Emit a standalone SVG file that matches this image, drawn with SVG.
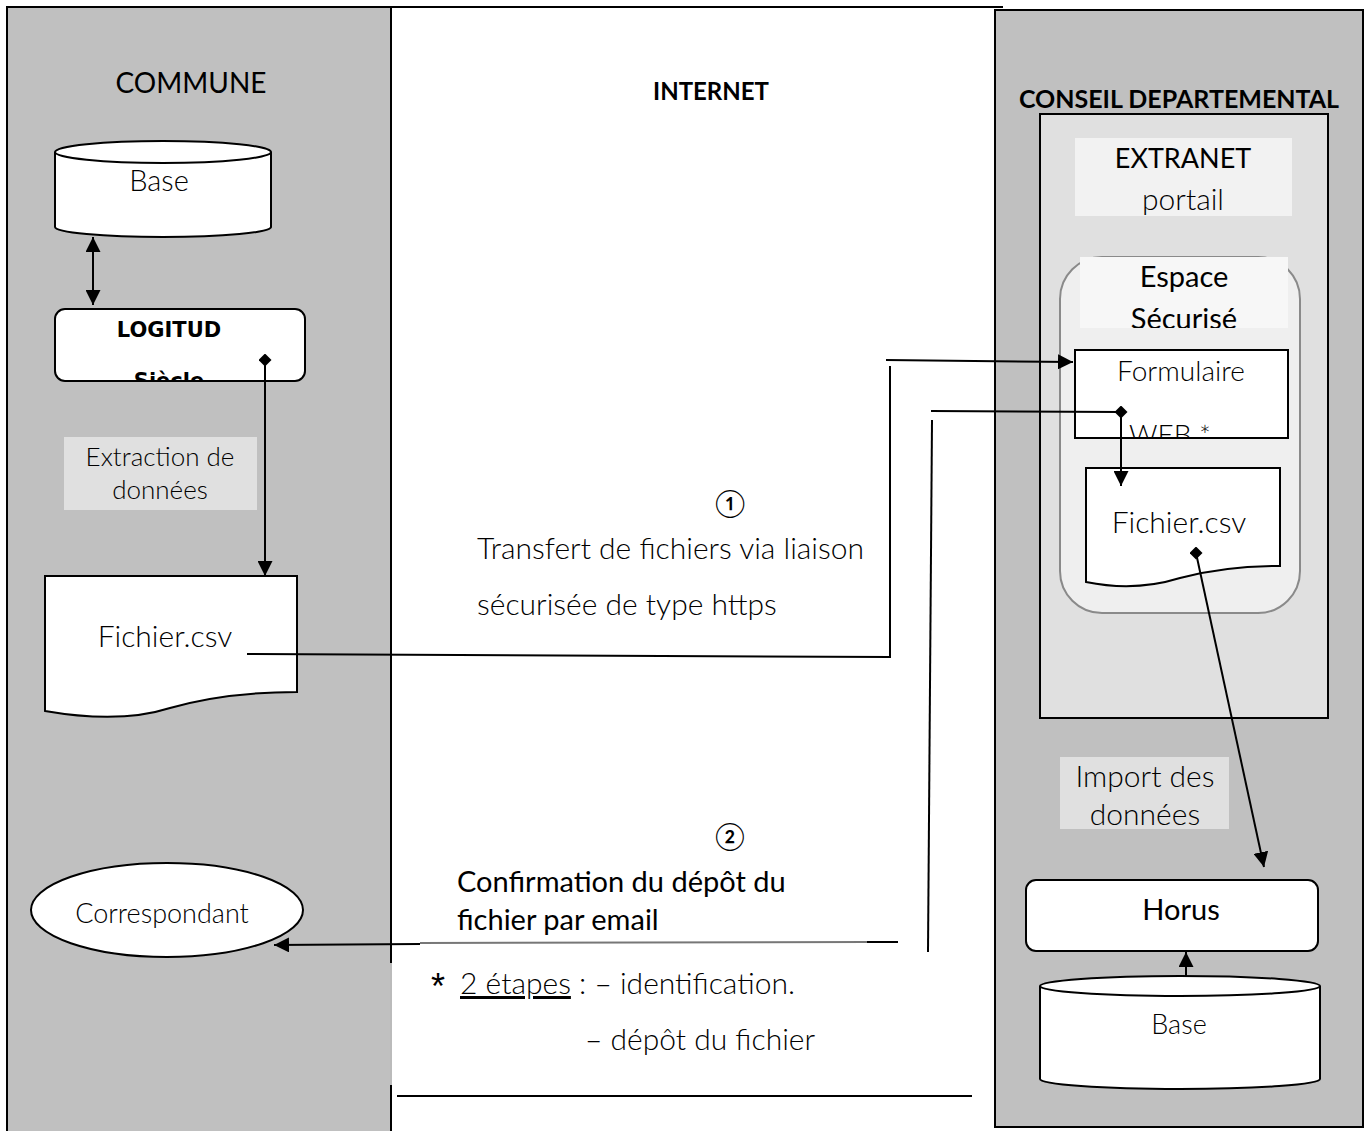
<svg xmlns="http://www.w3.org/2000/svg" width="1370" height="1131" viewBox="0 0 1370 1131">
<style>
.t{font-family:Lato,"Open Sans","Liberation Sans",sans-serif;fill:#000}
.l{font-weight:300}
.b{font-weight:700}
.v{font-family:"DejaVu Sans",Verdana,sans-serif;font-weight:700}
.ln{stroke:#000;stroke-width:2;fill:none}
.box{fill:#fff;stroke:#000;stroke-width:2}
</style>
<defs>
<marker id="arr" markerUnits="userSpaceOnUse" markerWidth="15" markerHeight="15" refX="15" refY="7.5" orient="auto-start-reverse" viewBox="0 0 15 15"><path d="M0,0 L15,7.5 L0,15 z" fill="#000"/></marker>
<marker id="dia" markerUnits="userSpaceOnUse" markerWidth="13" markerHeight="13" refX="6.5" refY="6.5" orient="0" viewBox="0 0 13 13"><path d="M0,6.5 L6.5,0 L13,6.5 L6.5,13 z" fill="#000"/></marker>
<clipPath id="cLog"><rect x="55" y="309" width="250" height="72" rx="10"/></clipPath>
<clipPath id="cForm"><rect x="1075" y="350" width="213" height="88"/></clipPath>
<clipPath id="cEsp"><rect x="1080" y="257" width="208" height="71"/></clipPath>
</defs>

<g id="bg">
<rect x="391" y="7" width="612" height="1130" fill="#fff"/>
<line x1="7" y1="7" x2="1003" y2="7" stroke="#000" stroke-width="2"/>
</g>

<g id="lane-commune">
<rect x="7" y="7" width="384" height="1130" fill="#c0c0c0" stroke="#000" stroke-width="2"/>
<line x1="391" y1="963" x2="391" y2="1085" stroke="#bbb" stroke-width="2"/>
<text class="t" x="191" y="93" font-size="28" text-anchor="middle">COMMUNE</text>
</g>

<g id="lane-internet">
<text class="t b" x="711" y="100" font-size="24" text-anchor="middle">INTERNET</text>
</g>

<g id="lane-conseil">
<rect x="995" y="10" width="368" height="1117" fill="#c0c0c0" stroke="#000" stroke-width="2"/>
<text class="t b" x="1179" y="108" font-size="25" text-anchor="middle">CONSEIL DEPARTEMENTAL</text>
</g>

<g id="extranet">
<rect x="1040" y="114" width="288" height="604" fill="#e0e0e0" stroke="#000" stroke-width="2"/>
<rect x="1075" y="138" width="217" height="78" fill="#f2f2f2"/>
<text class="t" x="1183" y="168" font-size="27" text-anchor="middle">EXTRANET</text>
<text class="t l" x="1183" y="210" font-size="30" text-anchor="middle">portail</text>
</g>

<g id="espace">
<rect x="1060" y="257" width="240" height="356" rx="42" fill="#efefef" stroke="#8a8a8a" stroke-width="2"/>
<rect x="1080" y="257" width="208" height="71" fill="#f7f7f7"/>
<g clip-path="url(#cEsp)">
<text class="t" x="1184" y="287" font-size="29" text-anchor="middle">Espace</text>
<text class="t" x="1184" y="329" font-size="29" text-anchor="middle">Sécurisé</text>
</g>
</g>

<g id="formulaire">
<rect class="box" x="1075" y="350" width="213" height="88"/>
<text class="t l" x="1181" y="381" font-size="28" text-anchor="middle">Formulaire</text>
<g clip-path="url(#cForm)"><text class="t l" x="1170" y="445" font-size="28" text-anchor="middle">WEB *</text></g>
</g>

<g id="fichier-right">
<path class="box" d="M1086,468 H1280 V566 Q1225,566 1180,578 Q1135,592 1086,582 Z"/>
<text class="t l" x="1179" y="533" font-size="30" text-anchor="middle">Fichier.csv</text>
</g>

<g id="import-label">
<rect x="1060" y="757" width="169" height="72" fill="#e0e0e0"/>
<text class="t l" x="1145" y="787" font-size="30" text-anchor="middle">Import des</text>
<text class="t l" x="1145" y="825" font-size="30" text-anchor="middle">données</text>
</g>

<g id="horus">
<rect class="box" x="1026" y="880" width="292" height="71" rx="10"/>
<text class="t" x="1181" y="920" font-size="29" text-anchor="middle">Horus</text>
</g>

<g id="base-right">
<path class="box" d="M1040,986 V1079 A140,10 0 0 0 1320,1079 V986"/>
<ellipse class="box" cx="1180" cy="986" rx="140" ry="10"/>
<text class="t l" x="1179" y="1034" font-size="27" text-anchor="middle">Base</text>
</g>

<g id="base-left">
<path class="box" d="M55,152 V227 A108,10 0 0 0 271,227 V152"/>
<ellipse class="box" cx="163" cy="152" rx="108" ry="11"/>
<text class="t l" x="159" y="191" font-size="29" text-anchor="middle">Base</text>
</g>

<g id="logitud">
<rect class="box" x="55" y="309" width="250" height="72" rx="10"/>
<text class="t v" x="169" y="337" font-size="21" text-anchor="middle">LOGITUD</text>
<g clip-path="url(#cLog)"><text class="t v" x="169" y="388" font-size="21" text-anchor="middle">Siècle</text></g>
</g>

<g id="extraction-label">
<rect x="64" y="437" width="193" height="73" fill="#e0e0e0"/>
<text class="t l" x="160" y="466" font-size="26" text-anchor="middle">Extraction de</text>
<text class="t l" x="160" y="499" font-size="26" text-anchor="middle">données</text>
</g>

<g id="fichier-left">
<path class="box" d="M45,576 H297 V692 Q225,692 170,708 Q120,724 45,711 Z"/>
<text class="t l" x="165" y="647" font-size="30" text-anchor="middle">Fichier.csv</text>
</g>

<g id="correspondant">
<ellipse class="box" cx="167" cy="910" rx="136" ry="47"/>
<text class="t l" x="162" y="923" font-size="27" text-anchor="middle">Correspondant</text>
</g>

<g id="labels">
<text class="t" x="730" y="513" font-size="27" text-anchor="middle">①</text>
<text class="t l" x="477" y="559" font-size="30">Transfert de fichiers via liaison</text>
<text class="t l" x="477" y="615" font-size="30">sécurisée de type https</text>
<text class="t" x="730" y="846" font-size="27" text-anchor="middle">②</text>
<text class="t" x="457" y="892" font-size="29">Confirmation du dépôt du</text>
<text class="t" x="457" y="930" font-size="29">fichier par email</text>
<text x="431" y="999" font-size="36" font-family="'Liberation Sans',sans-serif">*</text>
<text class="t l" font-size="30" y="994"><tspan x="460" text-decoration="underline">2 étapes</tspan><tspan> : – identification.</tspan></text>
<text class="t l" x="585" y="1050" font-size="30">– dépôt du fichier</text>
</g>

<g id="connectors">
<line class="ln" x1="93" y1="237" x2="93" y2="305" marker-start="url(#arr)" marker-end="url(#arr)"/>
<line class="ln" x1="265" y1="360" x2="265" y2="576" marker-start="url(#dia)" marker-end="url(#arr)"/>
<polyline class="ln" points="247,654 890,657 890,366"/>
<line class="ln" x1="886" y1="360" x2="1073" y2="362" marker-end="url(#arr)"/>
<line class="ln" x1="1121" y1="412" x2="931" y2="411"/>
<line class="ln" x1="932" y1="420" x2="928" y2="952"/>
<line class="ln" x1="1121" y1="412" x2="1121" y2="486" marker-start="url(#dia)" marker-end="url(#arr)"/>
<line x1="898" y1="942" x2="867" y2="942" stroke="#000" stroke-width="2"/>
<line x1="867" y1="942" x2="420" y2="943" stroke="#777" stroke-width="2"/>
<line class="ln" x1="420" y1="944" x2="274" y2="945" marker-end="url(#arr)"/>
<line class="ln" x1="1196" y1="553" x2="1264" y2="867" marker-start="url(#dia)" marker-end="url(#arr)"/>
<line class="ln" x1="1186" y1="976" x2="1186" y2="952" marker-end="url(#arr)"/>
<line class="ln" x1="397" y1="1096" x2="972" y2="1096"/>
</g>
</svg>
